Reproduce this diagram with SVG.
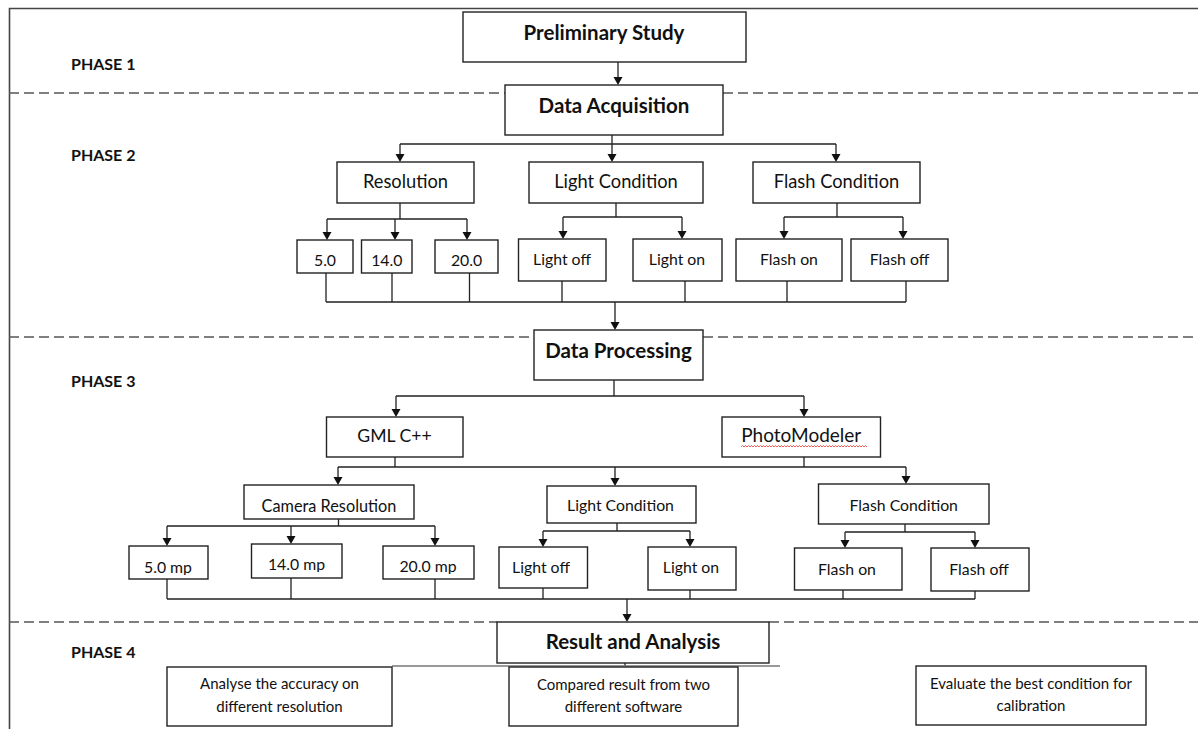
<svg xmlns="http://www.w3.org/2000/svg" width="1198" height="729" viewBox="0 0 1198 729">
<defs>
<clipPath id="c1"><rect x="129" y="546" width="79" height="29"/></clipPath>
<clipPath id="c2"><rect x="251" y="544" width="91" height="28"/></clipPath>
<clipPath id="c3"><rect x="383" y="546" width="91" height="28"/></clipPath>
</defs>
<style>
.box{fill:#fff;stroke:#222;stroke-width:1.4}
.ln{fill:none;stroke:#222;stroke-width:1.3}
.gl{fill:none;stroke:#777;stroke-width:1.3}
.ds{fill:none;stroke:#555;stroke-width:1.4;stroke-dasharray:10 5}
.ar{fill:#111}
.t{font-family:Lato,"Liberation Sans",sans-serif;fill:#111;text-anchor:middle}
.b{font-weight:700;font-size:20.5px}
.r{font-size:18.3px}
.m{font-size:15.8px}
.s{font-size:15px}
.ph{font-family:Lato,"Liberation Sans",sans-serif;font-weight:700;font-size:16px;fill:#111}
</style>
<rect width="1198" height="729" fill="#fff"/>
<g id="frame">
<path d="M9.5 729 V8.5 H1198" fill="none" stroke="#444" stroke-width="1.6"/>
</g>
<g id="phase-lines">
<path class="ds" d="M9 93 H505 M723 93 H1198"/>
<path class="ds" d="M9 337 H534 M703 337 H1198"/>
<path class="ds" d="M9 622 H497 M769 622 H1198"/>
</g>
<g id="phase-labels">
<text class="ph" x="71" y="70">PHASE 1</text>
<text class="ph" x="71" y="161">PHASE 2</text>
<text class="ph" x="71" y="387">PHASE 3</text>
<text class="ph" x="71" y="658">PHASE 4</text>
</g>
<g id="connectors">
<path class="ln" d="M618 62 V78"/>
<path class="ln" d="M612 135 V144 M400 144 H836 M400 144 V155 M612 144 V155 M836 144 V155"/>
<path class="ln" d="M400 203 V219 M327 219 H467 M327 219 V233 M395 219 V233 M467 219 V233"/>
<path class="ln" d="M616 203 V217 M563 217 H682 M563 217 V232 M682 217 V232"/>
<path class="ln" d="M837 203 V217 M784 217 H903 M784 217 V232 M903 217 V232"/>
<path class="ln" d="M326 273 V302 M392 273 V302 M469.5 273 V302 M562 281 V302 M685 281 V302 M787 281 V302 M906 281 V302 M326 302 H906 M615 302 V323"/>
<path class="ln" d="M614 380 V396 M396 396 H804 M396 396 V410 M804 396 V410"/>
<path class="ln" d="M395 457 V467 M804 457 V467 M338 467 H906 M338 467 V478 M615 467 V479 M906 467 V477"/>
<path class="ln" d="M338.5 519 V526 M167 526 H435 M167 526 V539 M291 526 V537 M435 526 V539"/>
<path class="ln" d="M617 523 V531 M543 531 H690 M543 531 V540 M690 531 V540"/>
<path class="ln" d="M905 524 V532 M845 532 H975 M845 532 V541 M975 532 V541"/>
<path class="ln" d="M167 579 V599 M291 578 V599 M435 579 V599 M543 588 V599 M690 590 V599 M843 590 V599 M975 591 V599 M167 599 H975 M627 599 V615"/>
<path class="ln" d="M625 663 V666"/>
<path class="gl" d="M392 666 H780"/>
<g class="ar">
<polygon points="613.5,77 622.5,77 618,85"/>
<polygon points="395.5,154 404.5,154 400,162"/>
<polygon points="607.5,154 616.5,154 612,162"/>
<polygon points="831.5,154 840.5,154 836,162"/>
<polygon points="322.5,232 331.5,232 327,240"/>
<polygon points="390.5,232 399.5,232 395,240"/>
<polygon points="462.5,232 471.5,232 467,240"/>
<polygon points="558.5,231 567.5,231 563,239"/>
<polygon points="677.5,231 686.5,231 682,239"/>
<polygon points="779.5,231 788.5,231 784,239"/>
<polygon points="898.5,231 907.5,231 903,239"/>
<polygon points="610.5,322 619.5,322 615,330"/>
<polygon points="391.5,409 400.5,409 396,417"/>
<polygon points="799.5,409 808.5,409 804,417"/>
<polygon points="333.5,477 342.5,477 338,485"/>
<polygon points="610.5,478 619.5,478 615,486"/>
<polygon points="901.5,476 910.5,476 906,484"/>
<polygon points="162.5,538 171.5,538 167,546"/>
<polygon points="286.5,536 295.5,536 291,544"/>
<polygon points="430.5,538 439.5,538 435,546"/>
<polygon points="538.5,539 547.5,539 543,547"/>
<polygon points="685.5,539 694.5,539 690,547"/>
<polygon points="840.5,540 849.5,540 845,548"/>
<polygon points="970.5,540 979.5,540 975,548"/>
<polygon points="622.5,614 631.5,614 627,622"/>
</g>
</g>
<g id="preliminary-study"><rect class="box" x="463" y="12" width="283" height="50"/><text class="t b" x="604" y="40">Preliminary Study</text></g>
<g id="data-acquisition"><rect class="box" x="505" y="85" width="218" height="50"/><text class="t b" x="614" y="113">Data Acquisition</text></g>
<g id="resolution"><rect class="box" x="337" y="162" width="137" height="41"/><text class="t r" x="405.5" y="188">Resolution</text></g>
<g id="light-condition-1"><rect class="box" x="529" y="162" width="174" height="41"/><text class="t r" x="616" y="188">Light Condition</text></g>
<g id="flash-condition-1"><rect class="box" x="753" y="162" width="167" height="41"/><text class="t r" x="836.5" y="188">Flash Condition</text></g>
<g id="res-5"><rect class="box" x="297" y="240" width="56" height="33"/><text class="t m" x="325" y="266">5.0</text></g>
<g id="res-14"><rect class="box" x="361.5" y="240" width="50.5" height="33"/><text class="t m" x="386.75" y="266">14.0</text></g>
<g id="res-20"><rect class="box" x="435" y="240" width="63" height="33"/><text class="t m" x="466.5" y="266">20.0</text></g>
<g id="light-off-1"><rect class="box" x="518.5" y="239" width="87.5" height="42"/><text class="t m" x="562" y="265">Light off</text></g>
<g id="light-on-1"><rect class="box" x="633" y="239" width="89" height="42"/><text class="t m" x="677" y="265">Light on</text></g>
<g id="flash-on-1"><rect class="box" x="736" y="239" width="106" height="42"/><text class="t m" x="789" y="265">Flash on</text></g>
<g id="flash-off-1"><rect class="box" x="851" y="239" width="97" height="42"/><text class="t m" x="899.5" y="265">Flash off</text></g>
<g id="data-processing"><rect class="box" x="534" y="330" width="169" height="50"/><text class="t b" x="618.5" y="358">Data Processing</text></g>
<g id="gml"><rect class="box" x="326.5" y="417" width="136.5" height="40"/><text class="t r" x="394.5" y="442" style="font-size:17.6px">GML C++</text></g>
<g id="photomodeler"><rect class="box" x="722" y="417" width="158.5" height="40"/><text class="t r" x="801.25" y="442" style="font-size:19px">PhotoModeler</text><path d="M741 447 l1.5 -1.5 l1.5 1.5 l1.5 -1.5 l1.5 1.5 l1.5 -1.5 l1.5 1.5 l1.5 -1.5 l1.5 1.5 l1.5 -1.5 l1.5 1.5 l1.5 -1.5 l1.5 1.5 l1.5 -1.5 l1.5 1.5 l1.5 -1.5 l1.5 1.5 l1.5 -1.5 l1.5 1.5 l1.5 -1.5 l1.5 1.5 l1.5 -1.5 l1.5 1.5 l1.5 -1.5 l1.5 1.5 l1.5 -1.5 l1.5 1.5 l1.5 -1.5 l1.5 1.5 l1.5 -1.5 l1.5 1.5 l1.5 -1.5 l1.5 1.5 l1.5 -1.5 l1.5 1.5 l1.5 -1.5 l1.5 1.5 l1.5 -1.5 l1.5 1.5 l1.5 -1.5 l1.5 1.5 l1.5 -1.5 l1.5 1.5 l1.5 -1.5 l1.5 1.5 l1.5 -1.5 l1.5 1.5 l1.5 -1.5 l1.5 1.5 l1.5 -1.5 l1.5 1.5 l1.5 -1.5 l1.5 1.5 l1.5 -1.5 l1.5 1.5 l1.5 -1.5 l1.5 1.5 l1.5 -1.5 l1.5 1.5 l1.5 -1.5 l1.5 1.5 l1.5 -1.5 l1.5 1.5 l1.5 -1.5 l1.5 1.5 l1.5 -1.5 l1.5 1.5 l1.5 -1.5 l1.5 1.5 l1.5 -1.5 l1.5 1.5 l1.5 -1.5 l1.5 1.5 l1.5 -1.5 l1.5 1.5 l1.5 -1.5 l1.5 1.5 l1.5 -1.5 l1.5 1.5 l1.5 -1.5 l1.5 1.5 l1.5 -1.5 l1.5 1.5 l1.5 -1.5 l1.5 1.5" fill="none" stroke="#e33" stroke-width="0.8"/></g>
<g id="camera-resolution"><rect class="box" x="244" y="485" width="170" height="34"/><text class="t m" x="329" y="512" style="font-size:16.3px">Camera Resolution</text></g>
<g id="light-condition-2"><rect class="box" x="547" y="486" width="149" height="37"/><text class="t m" x="620.5" y="511">Light Condition</text></g>
<g id="flash-condition-2"><rect class="box" x="818.5" y="484" width="170.5" height="40"/><text class="t m" x="903.75" y="511">Flash Condition</text></g>
<g id="mp-5"><rect class="box" x="129" y="546" width="79" height="33"/><text class="t m" x="168" y="573" clip-path="url(#c1)">5.0 mp</text></g>
<g id="mp-14"><rect class="box" x="251.5" y="544" width="90.5" height="34"/><text class="t m" x="296.5" y="570" clip-path="url(#c2)">14.0 mp</text></g>
<g id="mp-20"><rect class="box" x="383" y="546" width="91" height="33"/><text class="t m" x="428" y="572" clip-path="url(#c3)">20.0 mp</text></g>
<g id="light-off-2"><rect class="box" x="499" y="547" width="88.5" height="41"/><text class="t m" x="541" y="573">Light off</text></g>
<g id="light-on-2"><rect class="box" x="648" y="547" width="88" height="43"/><text class="t m" x="691" y="573">Light on</text></g>
<g id="flash-on-2"><rect class="box" x="794.5" y="548" width="107.5" height="42"/><text class="t m" x="847" y="575">Flash on</text></g>
<g id="flash-off-2"><rect class="box" x="931" y="548" width="98" height="43"/><text class="t m" x="979" y="575">Flash off</text></g>
<g id="result-analysis"><rect class="box" x="497" y="622" width="272" height="41"/><text class="t b" x="633" y="649">Result and Analysis</text></g>
<g id="analyse"><rect class="box" x="167" y="667" width="225" height="59"/><text class="t s" x="279.5" y="689">Analyse the accuracy on</text><text class="t s" x="279.5" y="712">different resolution</text></g>
<g id="compared"><rect class="box" x="509" y="667" width="229" height="59"/><text class="t s" x="623.5" y="690">Compared result from two</text><text class="t s" x="623.5" y="712">different software</text></g>
<g id="evaluate"><rect class="box" x="916" y="666" width="230" height="59"/><text class="t s" x="1031" y="689">Evaluate the best condition for</text><text class="t s" x="1031" y="711">calibration</text></g>
</svg>
